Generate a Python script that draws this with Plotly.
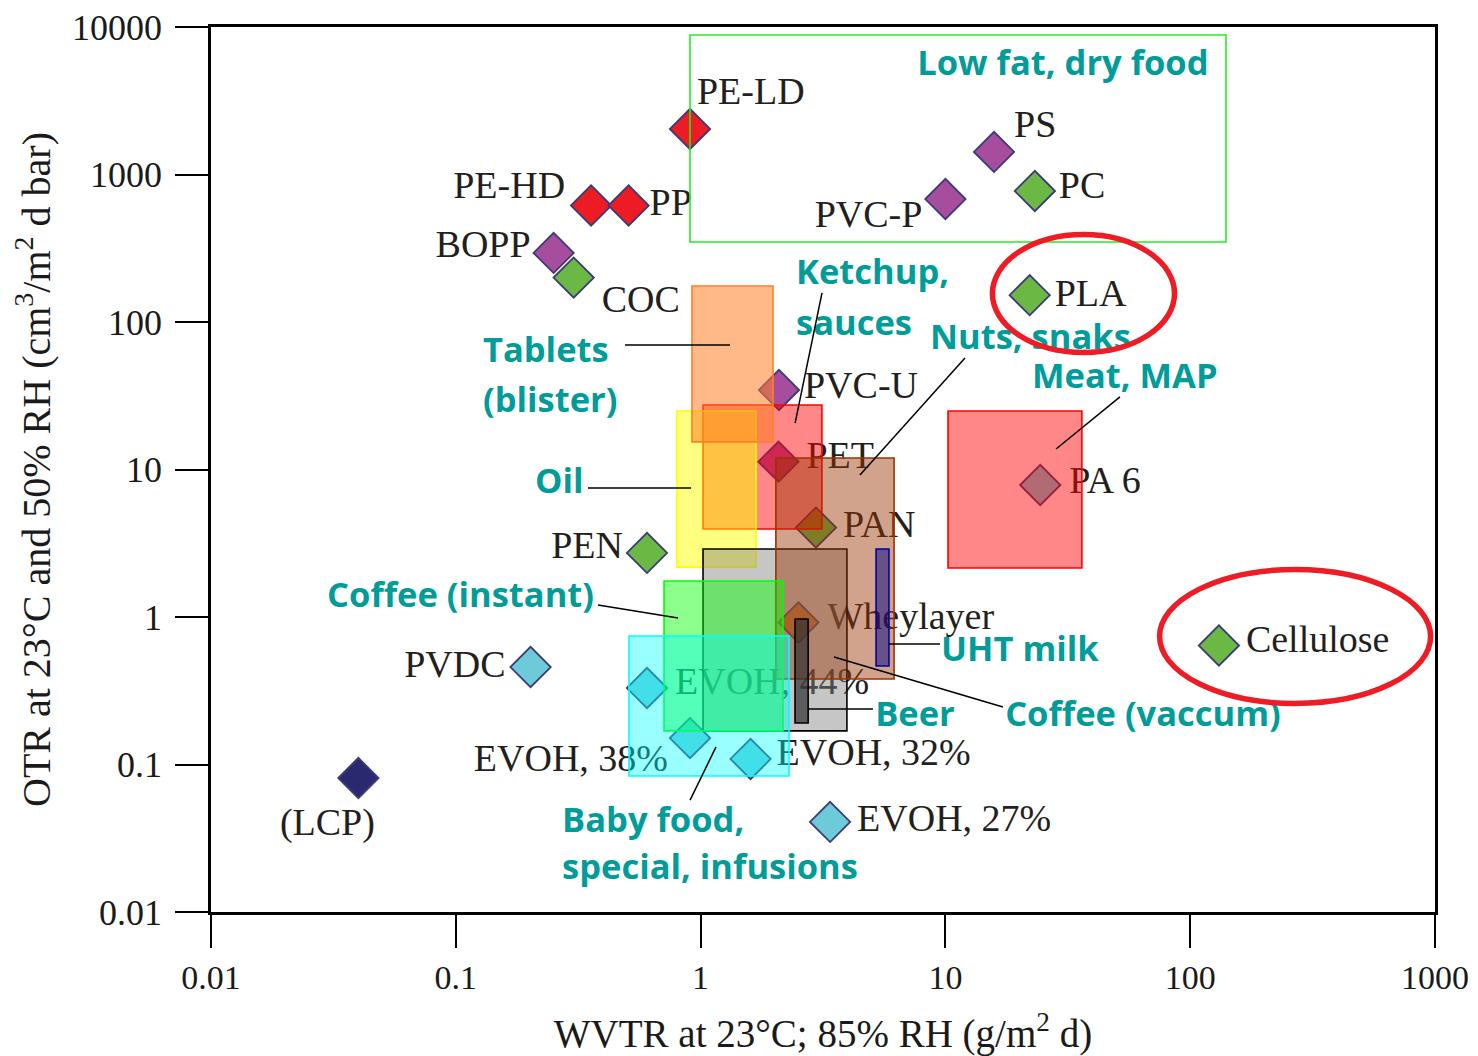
import math
import plotly.graph_objects as go

# ---------------- data ----------------
materials = ["PE-LD", "PE-HD", "PP", "BOPP", "COC", "PS", "PC", "PVC-P", "PLA",
             "PVC-U", "PET", "PA 6", "PAN", "PEN", "Wheylayer", "Cellulose",
             "PVDC", "EVOH, 44%", "EVOH, 38%", "EVOH, 32%", "EVOH, 27%", "(LCP)"]
wvtr = [0.905, 0.357, 0.508, 0.251, 0.303, 15.8, 23.2, 10.0, 22.1,
        2.09, 2.08, 24.4, 2.96, 0.604, 2.51, 131,
        0.202, 0.604, 0.905, 1.60, 3.38, 0.040]
otr = [2035, 616, 616, 294, 200, 1422, 773, 682, 152,
       34.6, 11.3, 7.85, 4.04, 2.72, 0.918, 0.641,
       0.458, 0.330, 0.151, 0.109, 0.0408, 0.081]
material_group = ["red", "red", "red", "purple", "green", "purple", "green", "purple", "green",
                  "purple", "purple", "cyan", "green", "green", "orange", "green",
                  "cyan", "cyan", "cyan", "cyan", "cyan", "navy"]

# application windows (WVTR range, OTR range)
app_names = ["Ketchup, sauces", "Oil", "Tablets (blister)", "Beer", "Nuts, snaks",
             "Coffee (instant)", "Baby food, special, infusions", "Coffee (vaccum)",
             "UHT milk", "Meat, MAP", "Low fat, dry food"]
app_wvtr_lo = [1.023, 0.80, 0.922, 1.023, 2.03, 0.709, 0.51, 2.43, 5.21, 10.25, 0.905]
app_wvtr_hi = [3.13, 1.684, 1.976, 3.96, 6.17, 2.17, 2.297, 2.75, 5.88, 36.1, 140]
app_otr_lo = [3.95, 2.18, 15.4, 0.169, 0.38, 0.169, 0.0836, 0.191, 0.4655, 2.15, 349]
app_otr_hi = [27.4, 24.9, 175.4, 2.89, 11.97, 1.754, 0.743, 0.969, 2.89, 24.9, 8830]

x_ticks = [0.01, 0.1, 1, 10, 100, 1000]
x_ticktext = ["0.01", "0.1", "1", "10", "100", "1000"]
y_ticks = [0.01, 0.1, 1, 10, 100, 1000, 10000]
y_ticktext = ["0.01", "0.1", "1", "10", "100", "1000", "10000"]

# ---------------- layout / style ----------------
BODY = 8  # default page margin of the html body
W, H = 1478 - BODY, 1056 - BODY
M = dict(l=211 - BODY, r=43, t=27 - BODY, b=144)
PW = W - M["l"] - M["r"]
PH = H - M["t"] - M["b"]
XR = [-2, 3]
YR = [-2, 4]
PXX = PW / (XR[1] - XR[0])
PXY = PH / (YR[1] - YR[0])

group_colors = {"red": "#ED1C24", "purple": "#A64D9E", "green": "#6BB844",
                "cyan": "#6DCBD9", "orange": "#EE8A2A", "navy": "#2A2970"}

# label offsets (pixels right, pixels up, alignment)
label_offsets = [(7, 34, "L"), (-26, 17, "R"), (21, 0, "L"), (-23, 5, "R"), (28, -25, "L"),
                 (20, 24, "L"), (24, 2, "L"), (-23, -18, "R"), (25, -1, "L"),
                 (25, 1, "L"), (28, 3, "L"), (29, 2, "L"), (27, 0, "L"), (-24, 4, "R"),
                 (29, 3, "L"), (27, 3, "L"), (-25, 0, "R"), (28, 4, "L"), (-22, -23, "R"),
                 (26, 3, "L"), (27, 0, "L"), (-31, -47, "C")]

app_styles = [("#FF0000", 0.47, "#FF0000"), ("#FFFF00", 0.5, "#FFFF00"),
              ("#FF7F27", 0.55, "#FF7F27"), ("#808080", 0.45, "#000000"),
              ("#993300", 0.45, "#993300"), ("#00FF00", 0.45, "#00FF00"),
              ("#00FFFF", 0.4, "#00FFFF"), ("#303030", 0.7, "#000000"),
              ("#000080", 0.5, "#0000A0"), ("#FF0000", 0.47, "#FF0000"),
              ("#FFFFFF", 0.0, "#22EE22")]

# teal category labels: (text, log10 x of left edge, log10 y of centre)
teal_labels = [("Low fat, dry food", 0.885, 3.736), ("Ketchup,", 0.390, 2.319),
               ("sauces", 0.390, 1.973), ("Tablets", -0.889, 1.790),
               ("(blister)", -0.889, 1.451), ("Nuts, snaks", 0.937, 1.878),
               ("Meat, MAP", 1.354, 1.614), ("Oil", -0.676, 0.902),
               ("Coffee (instant)", -1.526, 0.129), ("UHT milk", 0.982, -0.237),
               ("Beer", 0.713, -0.678), ("Coffee (vaccum)", 1.244, -0.678),
               ("Baby food,", -0.566, -1.397), ("special, infusions", -0.566, -1.715)]

# leader lines in log10 coordinates (x0, y0, x1, y1)
leaders = [(-0.309, 1.844, 0.120, 1.844), (0.496, 2.197, 0.386, 1.315),
           (1.080, 1.756, 0.651, 0.963), (1.713, 1.492, 1.452, 1.139),
           (-0.460, 0.875, -0.039, 0.875), (-0.419, 0.081, -0.092, -0.007),
           (0.770, -0.183, 0.978, -0.183), (0.439, -0.624, 0.704, -0.624),
           (0.545, -0.271, 1.235, -0.610), (0.063, -0.881, -0.043, -1.241)]

# highlight ellipses in log10 coordinates (x0, y0, x1, y1)
ellipses = [(1.192, 1.793, 1.936, 2.593), (1.875, -0.586, 2.982, 0.322)]

TEAL = "#009C99"
SERIF = "Liberation Serif"

fig = go.Figure()

# markers
fig.add_trace(go.Scatter(
    x=wvtr, y=otr, mode="markers", hoverinfo="skip", showlegend=False,
    marker=dict(symbol="diamond", size=31,
                color=[group_colors[g] for g in material_group],
                line=dict(color="#3C3A78", width=1.8))))

# material labels
lx, ly, lpos = [], [], []
for xv, yv, (dx, dy, al) in zip(wvtr, otr, label_offsets):
    lx.append(10 ** (math.log10(xv) + dx / PXX))
    ly.append(10 ** (math.log10(yv) + dy / PXY))
    lpos.append({"L": "middle right", "R": "middle left", "C": "middle center"}[al])
fig.add_trace(go.Scatter(
    x=lx, y=ly, mode="text", text=materials, textposition=lpos,
    hoverinfo="skip", showlegend=False,
    textfont=dict(family=SERIF, size=38, color="#231F20")))

# teal category labels
fig.add_trace(go.Scatter(
    x=[10 ** t[1] for t in teal_labels], y=[10 ** t[2] for t in teal_labels],
    mode="text", text=["<b>" + t[0] + "</b>" for t in teal_labels],
    textposition="middle right", hoverinfo="skip", showlegend=False,
    textfont=dict(family="Open Sans", size=34.5, color=TEAL)))

shapes = []
for i in range(len(app_names)):
    col, op, lc = app_styles[i]
    r = int(col[1:3], 16); g = int(col[3:5], 16); b = int(col[5:7], 16)
    shapes.append(dict(type="rect", xref="x", yref="y", layer="above",
                       x0=app_wvtr_lo[i], x1=app_wvtr_hi[i],
                       y0=app_otr_lo[i], y1=app_otr_hi[i],
                       fillcolor=f"rgba({r},{g},{b},{op})",
                       line=dict(color=lc, width=1.6)))
for (x0, y0, x1, y1) in leaders:
    shapes.append(dict(type="line", xref="x", yref="y", layer="above",
                       x0=10 ** x0, y0=10 ** y0, x1=10 ** x1, y1=10 ** y1,
                       line=dict(color="black", width=1.5)))
for (x0, y0, x1, y1) in ellipses:
    shapes.append(dict(type="circle", xref="x", yref="y", layer="above",
                       x0=10 ** x0, y0=10 ** y0, x1=10 ** x1, y1=10 ** y1,
                       line=dict(color="#EE1C25", width=5.5)))

axis_common = dict(type="log", showgrid=False, zeroline=False, showline=True,
                   linecolor="black", linewidth=2.5, mirror=True,
                   ticks="outside", ticklen=33, tickwidth=2, tickcolor="black",
                   ticklabeloverflow="allow", automargin=False)

fig.update_layout(
    width=W, height=H, margin=M, paper_bgcolor="white", plot_bgcolor="white",
    shapes=shapes, showlegend=False,
    xaxis=dict(**axis_common, range=XR, tickvals=x_ticks, ticktext=x_ticktext,
               tickfont=dict(family=SERIF, size=34, color="#1A1A1A"),
               title=dict(text="WVTR at 23°C; 85% RH (g/m<sup>2</sup> d)",
                          font=dict(family=SERIF, size=39, color="#1A1A1A"),
                          standoff=30)),
    yaxis=dict(**axis_common, range=YR, tickvals=y_ticks, ticktext=y_ticktext,
               tickfont=dict(family=SERIF, size=36, color="#1A1A1A"),
               ticklabelstandoff=6,
               title=dict(text="OTR at 23°C and 50% RH (cm<sup>3</sup>/m<sup>2</sup> d bar)",
                          font=dict(family=SERIF, size=40, color="#1A1A1A"),
                          standoff=24)),
)

fig.write_html("out.html")
